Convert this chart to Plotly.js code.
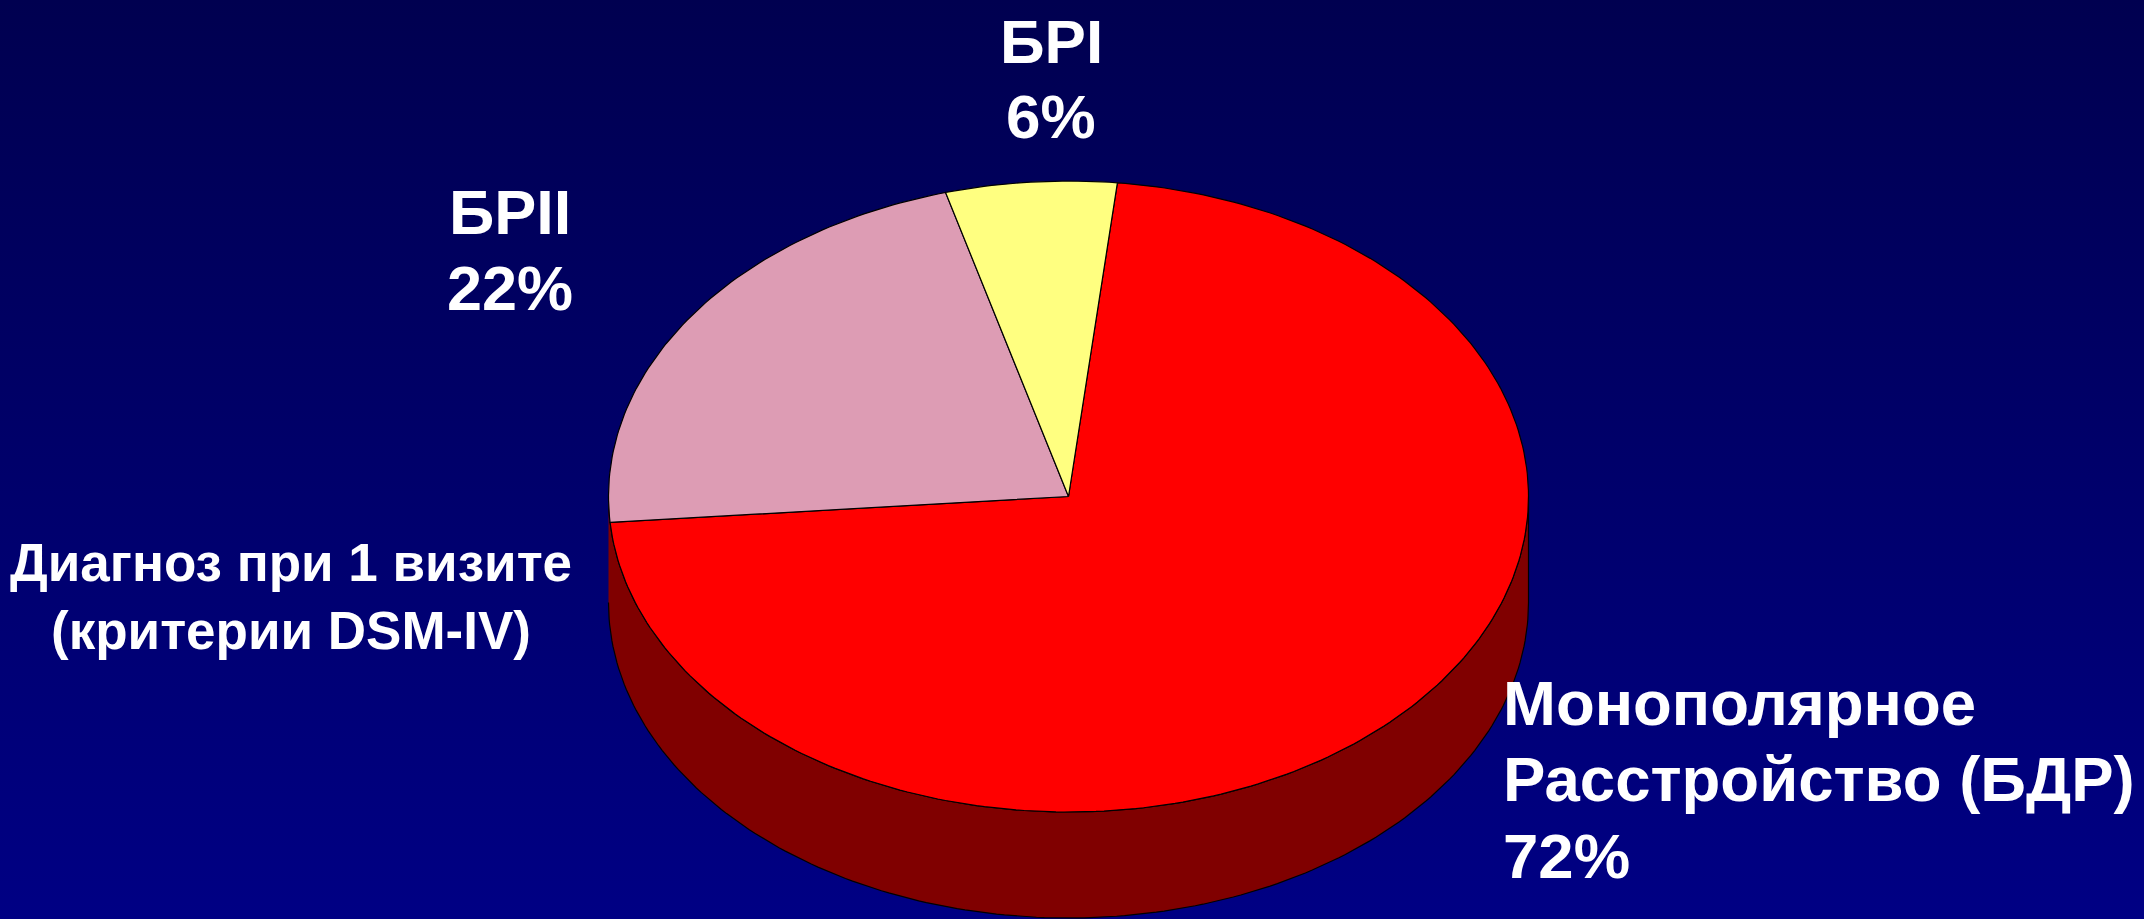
<!DOCTYPE html>
<html><head><meta charset="utf-8">
<script src="https://cdn.plot.ly/plotly-3.0.1.min.js"></script>
<style>
html,body{margin:0;padding:0;width:2144px;height:919px;overflow:hidden;background:linear-gradient(to bottom,#000050 0%,#000084 100%);}
#chart{width:2144px;height:919px;}
</style></head><body><div id="chart"></div>
<script>
// Data (share of diagnoses at first visit, DSM-IV criteria)
const categories = ['Монополярное Расстройство (БДР)', 'БРII', 'БРI'];
const shares = [72, 22, 6];
const sliceColors = ['#ff0000', '#dd9cb4', '#ffff80'];
const wallColor = '#800000';
const startAngle = 6.1;

// Label lines: text, x, y, size, anchor
const labelText = ['БРI', '6%', 'БРII', '22%', 'Диагноз при 1 визите', '(критерии DSM-IV)', 'Монополярное', 'Расстройство (БДР)', '72%'];
const labelX = [1051, 1051, 510, 510, 291, 291, 1501, 1501, 1501];
const labelY = [41, 116, 212, 288, 562, 630, 703, 779, 856];
const labelSize = [62, 62, 63, 63, 53, 53, 63.5, 63.5, 63.5];
const labelAnchor = ['center', 'center', 'center', 'center', 'center', 'center', 'left', 'left', 'left'];

// Tilted-pie geometry on the pixel-unit axes
const cx = 1068.5, cy = 496.5, rx = 460, ry = 315.5, depth = 106;
const pt = deg => [cx + rx * Math.sin(deg * Math.PI / 180), cy - ry * Math.cos(deg * Math.PI / 180)];

function arc(from, to, dy) {
  const n = Math.max(2, Math.ceil(Math.abs(to - from)));
  const xs = [], ys = [];
  for (let i = 0; i <= n; i++) {
    const p = pt(from + (to - from) * i / n);
    xs.push(p[0]); ys.push(p[1] + dy);
  }
  return [xs, ys];
}

const traces = [];
// side wall
const front = arc(270, 90, depth);
const topRim = arc(90, 270, 0);
traces.push({
  type: 'scatter', mode: 'lines', fill: 'toself', fillcolor: wallColor,
  x: front[0].concat(topRim[0]), y: front[1].concat(topRim[1]),
  line: {color: '#000000', width: 1.2}, hoverinfo: 'skip', showlegend: false
});
// top face slices
const total = shares.reduce((a, b) => a + b, 0);
let a0 = startAngle;
shares.forEach((v, i) => {
  const a1 = a0 + v / total * 360;
  const s = arc(a0, a1, 0);
  traces.push({
    type: 'scatter', mode: 'lines', fill: 'toself', fillcolor: sliceColors[i],
    x: [cx].concat(s[0], [cx]), y: [cy].concat(s[1], [cy]),
    line: {color: '#000000', width: 1.2}, name: categories[i],
    text: categories[i] + ': ' + v + '%', hoverinfo: 'text', showlegend: false
  });
  a0 = a1;
});

const annotations = labelText.map((t, i) => ({
  text: '<b>' + t + '</b>', x: labelX[i], y: labelY[i], xref: 'x', yref: 'y',
  xanchor: labelAnchor[i], yanchor: 'middle', showarrow: false, align: labelAnchor[i],
  font: {family: '"Liberation Sans", Arial, sans-serif', size: labelSize[i], color: '#ffffff'}
}));

Plotly.newPlot('chart', traces, {
  width: 2144, height: 919,
  margin: {l: 0, r: 0, t: 0, b: 0},
  paper_bgcolor: 'rgba(0,0,0,0)', plot_bgcolor: 'rgba(0,0,0,0)',
  xaxis: {range: [0, 2144], visible: false, fixedrange: true},
  yaxis: {range: [919, 0], visible: false, fixedrange: true},
  annotations: annotations, showlegend: false
}, {displayModeBar: false, staticPlot: true});
</script></body></html>
